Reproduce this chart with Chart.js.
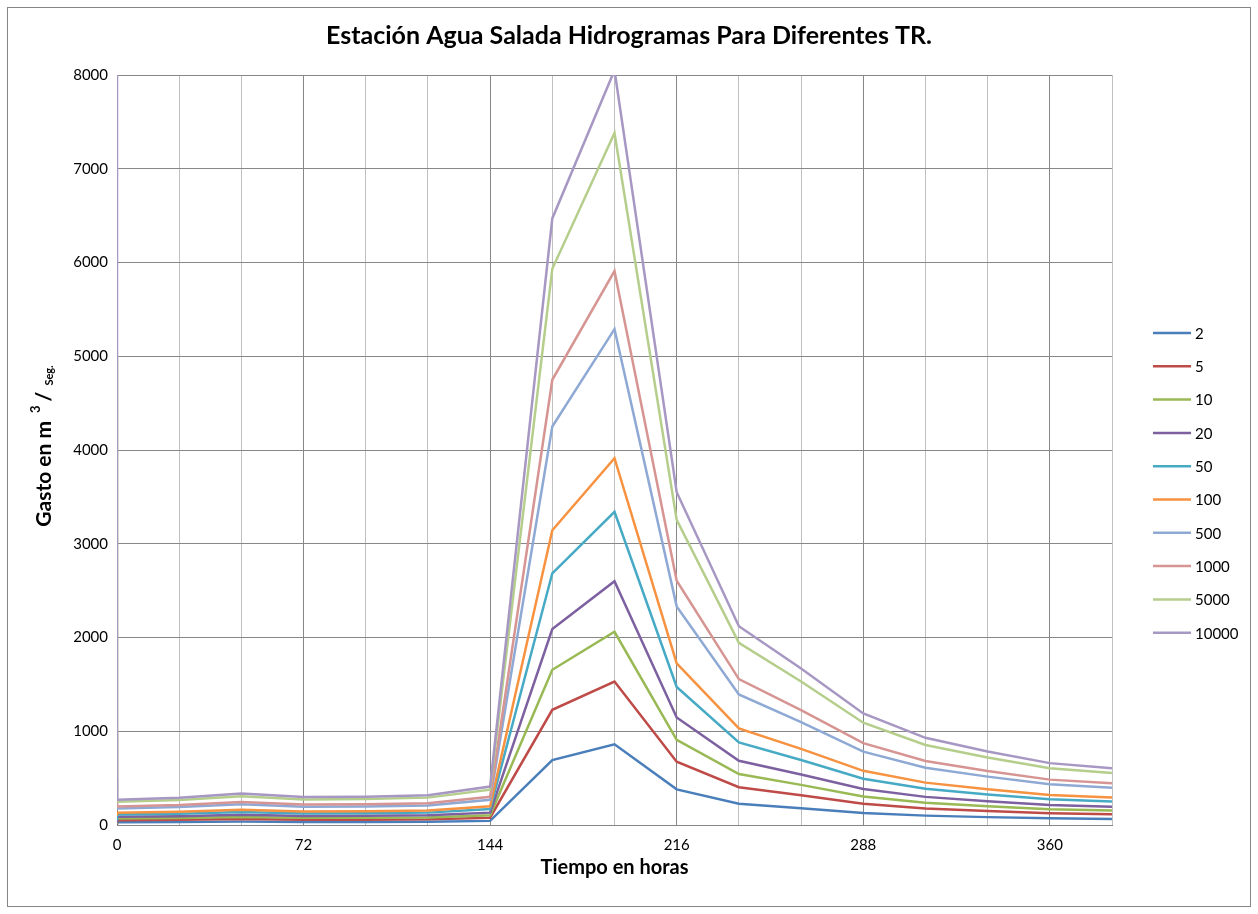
<!DOCTYPE html>
<html>
<head>
<meta charset="utf-8">
<title>Estación Agua Salada - Hidrogramas</title>
<script src="https://cdn.jsdelivr.net/npm/chart.js@4.4.1/dist/chart.umd.min.js"></script>
<style>
    html, body { margin: 0; padding: 0; background: #fff; }
    #contenedor { width: 1258px; height: 914px; }
</style>
</head>
<body>
<div id="contenedor">
    <canvas id="chartHidrogramas" width="1258" height="914"></canvas>
</div>
<script>
// Tiempo en horas (el primer renglón es el encabezado con el TR)
const tiempos = [0, 0, 24, 48, 72, 96, 120, 144, 168, 192, 216, 240, 264, 288, 312, 336, 360, 384];

const periodosRetorno = ["2", "5", "10", "20", "50", "100", "500", "1000", "5000", "10000"];

// Gasto en m3/seg para cada periodo de retorno
const gastoTr2     = [2,     29,  31,  36,  32,  32,  34,  44,  692,  861,  380, 227,  179,  127,  100, 84,  71,  65];
const gastoTr5     = [5,     51,  55,  64,  57,  57,  60,  78,  1229, 1530, 675, 403,  317,  226,  177, 149, 125, 115];
const gastoTr10    = [10,    69,  74,  86,  76,  77,  81,  105, 1656, 2061, 909, 543,  428,  305,  238, 201, 169, 155];
const gastoTr20    = [20,    87,  94,  108, 96,  98,  103, 132, 2090, 2600, 1147, 685, 539,  384,  300, 254, 213, 195];
const gastoTr50    = [50,    112, 120, 139, 124, 125, 132, 170, 2685, 3341, 1473, 880, 693,  494,  386, 326, 274, 251];
const gastoTr100   = [100,   131, 141, 163, 145, 147, 155, 199, 3144, 3912, 1725, 1030, 812, 578,  452, 382, 321, 294];
const gastoTr500   = [500,   177, 191, 220, 196, 198, 209, 269, 4251, 5289, 2332, 1393, 1097, 782, 611, 516, 434, 397];
const gastoTr1000  = [1000,  198, 213, 246, 219, 222, 233, 301, 4749, 5909, 2606, 1556, 1226, 873, 683, 576, 484, 444];
const gastoTr5000  = [5000,  248, 266, 307, 273, 277, 292, 376, 5933, 7382, 3255, 1944, 1531, 1091, 853, 720, 605, 555];
const gastoTr10000 = [10000, 270, 290, 335, 298, 302, 318, 410, 6470, 8050, 3550, 2120, 1670, 1190, 930, 785, 660, 605];

const series = [gastoTr2, gastoTr5, gastoTr10, gastoTr20, gastoTr50, gastoTr100,
                gastoTr500, gastoTr1000, gastoTr5000, gastoTr10000];

const colores = ["#4A7EBB", "#BE4B48", "#98B954", "#7D60A0", "#46AAC5",
                 "#F69240", "#8FA9D5", "#D69593", "#B5CE8C", "#A797C3"];

const titulo = "Estación Agua Salada Hidrogramas Para Diferentes TR.";
const fuente = "Lato, 'Open Sans', sans-serif";

const datasets = series.map((valores, i) => ({
    label: periodosRetorno[i],
    data: valores.map((v, k) => ({ x: tiempos[k], y: v })),
    borderColor: colores[i],
    backgroundColor: colores[i],
    borderWidth: 2.5,
    pointRadius: 0,
    showLine: true,
    tension: 0,
    order: series.length - i   // las series mayores quedan encima
}));

// Marco, título, leyenda y título del eje Y (con superíndice y subíndice)
const pluginDecoracion = {
    id: "decoracion",
    beforeDraw(chart) {
        const ctx = chart.ctx;
        ctx.save();
        ctx.fillStyle = "#fff";
        ctx.fillRect(0, 0, chart.width, chart.height);
        ctx.strokeStyle = "#868686";
        ctx.lineWidth = 1;
        ctx.strokeRect(7.5, 7.5, chart.width - 15, chart.height - 15);
        ctx.restore();
    },
    afterDraw(chart) {
        const ctx = chart.ctx;
        ctx.save();

        // título
        ctx.fillStyle = "#000";
        ctx.font = "bold 25px " + fuente;
        ctx.textAlign = "center";
        ctx.textBaseline = "middle";
        ctx.fillText(titulo, chart.width / 2, 36);

        // leyenda
        chart.data.datasets.forEach((ds, i) => {
            const y = 333 + i * 33.3;
            ctx.strokeStyle = ds.borderColor;
            ctx.lineWidth = 2.5;
            ctx.beginPath();
            ctx.moveTo(1153, y);
            ctx.lineTo(1191, y);
            ctx.stroke();
            ctx.fillStyle = "#000";
            ctx.font = "15px " + fuente;
            ctx.textAlign = "left";
            ctx.textBaseline = "middle";
            ctx.fillText(ds.label, 1195, y + 1);
        });

        // título del eje Y
        const partes = [
            { t: "Gasto en m", f: "bold 21px " + fuente, dy: 0, gap: 8 },
            { t: "3", f: "bold 13px " + fuente, dy: -8, gap: 4 },
            { t: "/", f: "bold 21px " + fuente, dy: 0, gap: 6 },
            { t: "Seg.", f: "bold 11px " + fuente, dy: 5, gap: 0 }
        ];
        let total = 0;
        partes.forEach(p => { ctx.font = p.f; p.w = ctx.measureText(p.t).width; total += p.w + p.gap; });
        ctx.translate(44, 446);
        ctx.rotate(-Math.PI / 2);
        ctx.fillStyle = "#000";
        ctx.textAlign = "left";
        ctx.textBaseline = "middle";
        let x = -total / 2;
        partes.forEach(p => {
            ctx.font = p.f;
            ctx.fillText(p.t, x, p.dy);
            x += p.w + p.gap;
        });
        ctx.restore();
    }
};

new Chart(document.getElementById("chartHidrogramas").getContext("2d"), {
    type: "scatter",
    data: { datasets },
    options: {
        responsive: false,
        animation: false,
        devicePixelRatio: 1,
        layout: { padding: { left: 0, top: 75, right: 146, bottom: 0 } },
        plugins: {
            legend: { display: false },
            tooltip: { enabled: false },
            title: { display: false }
        },
        scales: {
            x: {
                type: "linear",
                min: 0,
                max: 384,
                ticks: {
                    stepSize: 24,
                    autoSkip: false,
                    maxRotation: 0,
                    color: "#000",
                    padding: 11,
                    font: { family: fuente, size: 15 },
                    callback: v => (v % 72 === 0 ? String(v) : "")
                },
                grid: {
                    drawTicks: false,
                    color: c => (c.tick && c.tick.value % 72 === 0 ? "#878787" : "#C0C0C0"),
                    lineWidth: 1
                },
                border: { color: "#868686", width: 1 },
                title: {
                    display: true,
                    text: "Tiempo en horas",
                    color: "#000",
                    font: { family: fuente, size: 20, weight: "bold", lineHeight: 1.2 },
                    padding: { top: 0, bottom: 34 }
                },
                afterFit: s => { s.height = 89; }
            },
            y: {
                min: 0,
                max: 8000,
                ticks: {
                    stepSize: 1000,
                    color: "#000",
                    padding: 9,
                    font: { family: fuente, size: 15 },
                    callback: v => String(v)
                },
                grid: { drawTicks: false, color: "#878787", lineWidth: 1 },
                border: { color: "#868686", width: 1 },
                afterFit: s => { s.width = 117; }
            }
        }
    },
    plugins: [pluginDecoracion]
});
</script>
</body>
</html>
